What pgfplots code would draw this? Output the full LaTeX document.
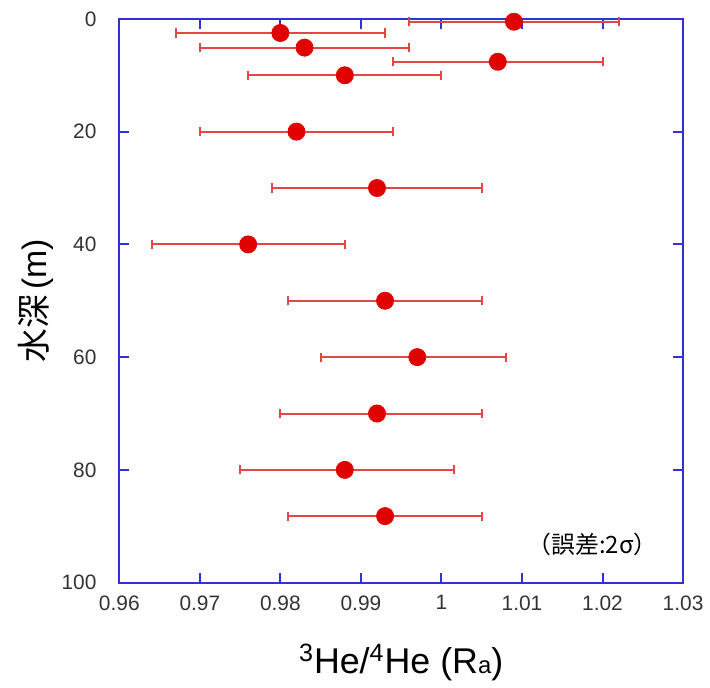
\documentclass[border=0pt]{standalone}
\usepackage{fontspec}
\setmainfont{Liberation Sans}
\newfontfamily\cjk{Noto Sans CJK JP}
\usepackage{pgfplots}
\pgfplotsset{compat=1.18}
\definecolor{axblue}{RGB}{50,50,210}
\definecolor{ptred}{RGB}{225,0,0}
\definecolor{barred}{RGB}{228,70,70}
\begin{document}
\begin{tikzpicture}
\begin{axis}[
  width=283.5pt,height=283.5pt,scale only axis,
  xmin=0.96,xmax=1.03,ymin=0,ymax=100,y dir=reverse,
  xtick={0.96,0.97,...,1.03},ytick={0,20,...,100},
  xticklabels={0.96,0.97,0.98,0.99,1,1.01,1.02,1.03},
  /pgf/number format/assume math mode=true,
  tick label style={font=\fontsize{10.5}{12}\selectfont,text=black!80},
  axis line style={axblue,line width=1pt},
  tick style={axblue,line width=1pt},
  major tick length=5pt,tick align=inside,
  xtick pos=both,ytick pos=both,
  xticklabel pos=bottom,yticklabel pos=left,
  yticklabel style={xshift=-8pt},
  xticklabel style={yshift=-3pt},
  xlabel={\textsuperscript{3}He/\textsuperscript{4}He (R{\fontsize{12}{12}\selectfont a})},
  xlabel style={font=\fontsize{18}{20}\selectfont,yshift=-10pt},
  ylabel={{\cjk 水深}\,(m)},
  ylabel style={font=\fontsize{17}{19}\selectfont,yshift=-3pt},
  clip=false,
]
\addplot[only marks,mark=*,mark size=4.3pt,mark options={fill=ptred,draw=ptred},
  error bars/.cd,x dir=both,x explicit,
  error bar style={barred,line width=1pt},
  error mark=|,error mark options={barred,line width=1pt,mark size=2.3pt}]
coordinates {
(1.009,0.5) += (0.013,0) -= (0.013,0)
(0.980,2.5) += (0.013,0) -= (0.013,0)
(0.983,5.1) += (0.013,0) -= (0.013,0)
(1.007,7.6) += (0.013,0) -= (0.013,0)
(0.988,10) += (0.012,0) -= (0.012,0)
(0.982,20) += (0.012,0) -= (0.012,0)
(0.992,30) += (0.013,0) -= (0.013,0)
(0.976,40) += (0.012,0) -= (0.012,0)
(0.993,50) += (0.012,0) -= (0.012,0)
(0.997,60) += (0.011,0) -= (0.012,0)
(0.992,70) += (0.013,0) -= (0.012,0)
(0.988,80) += (0.0135,0) -= (0.013,0)
(0.993,88.2) += (0.012,0) -= (0.012,0)
};
\node[anchor=east,font=\fontsize{12}{14}\selectfont\cjk] at (axis cs:1.0277,93.3) {（誤差:2σ）};
\end{axis}
\path (current axis.south west) ++(-60pt,-52.5pt) (current axis.north east) ++(11.5pt,9.5pt);
\end{tikzpicture}
\end{document}
